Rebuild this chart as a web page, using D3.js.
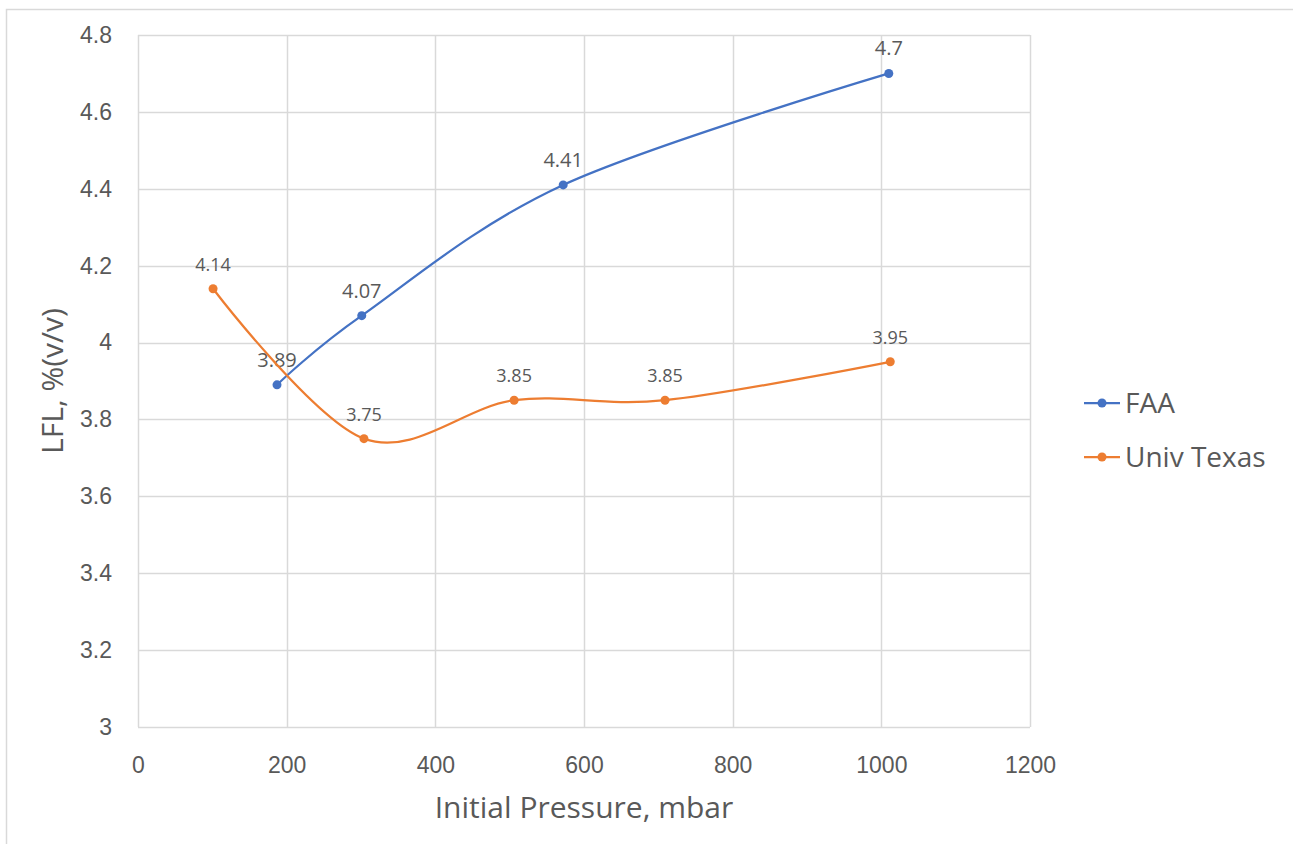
<!DOCTYPE html>
<html>
<head>
<meta charset="utf-8">
<script src="https://cdn.jsdelivr.net/npm/d3@7"></script>
<style>
  html, body { margin: 0; padding: 0; background: #fff; }
  svg { display: block; font-family: "Open Sans", "Noto Sans", sans-serif; }
</style>
</head>
<body>
<svg id="chart" width="1293" height="844"></svg>
<script>
// Lower flammability limit vs. initial pressure
const faaPressure = [187, 301, 572, 1010];
const faaLFL = [3.89, 4.07, 4.41, 4.7];
const utPressure = [101, 304, 506, 709, 1012];
const utLFL = [4.14, 3.75, 3.85, 3.85, 3.95];
const xTicks = [0, 200, 400, 600, 800, 1000, 1200];
const yTicks = [3, 3.2, 3.4, 3.6, 3.8, 4, 4.2, 4.4, 4.6, 4.8];

const series = [
  { name: "FAA", color: "#4472C4", x: faaPressure, y: faaLFL, labelSize: 20 },
  { name: "Univ Texas", color: "#ED7D31", x: utPressure, y: utLFL, labelSize: 18 }
];

const svg = d3.select("#chart");
const margin = { left: 138, right: 1030, top: 35, bottom: 727 };
const x = d3.scaleLinear().domain([0, 1200]).range([margin.left, margin.right]);
const y = d3.scaleLinear().domain([3, 4.8]).range([margin.bottom, margin.top]);
const textColor = "#595959";
const gridColor = "#d9d9d9";

// frame edges (top and left)
svg.append("path")
  .attr("d", "M6.5,844 V9.5 H1293")
  .attr("fill", "none").attr("stroke", "#d9d9d9").attr("stroke-width", 1.5);

// gridlines
svg.append("g").selectAll("line").data(yTicks).join("line")
  .attr("x1", margin.left).attr("x2", margin.right)
  .attr("y1", d => Math.round(y(d)) + 0.5).attr("y2", d => Math.round(y(d)) + 0.5)
  .attr("stroke", gridColor).attr("stroke-width", 1.5);
svg.append("g").selectAll("line").data(xTicks).join("line")
  .attr("y1", margin.top).attr("y2", margin.bottom)
  .attr("x1", d => Math.round(x(d)) + 0.5).attr("x2", d => Math.round(x(d)) + 0.5)
  .attr("stroke", gridColor).attr("stroke-width", 1.5);

// axes (labels only, domain hidden)
const yAxis = svg.append("g").attr("transform", `translate(${margin.left},0)`)
  .call(d3.axisLeft(y).tickValues(yTicks).tickSize(0).tickPadding(26).tickFormat(d3.format("~g")));
const xAxis = svg.append("g").attr("transform", `translate(0,${margin.bottom})`)
  .call(d3.axisBottom(x).tickValues(xTicks).tickSize(0).tickFormat(d3.format("d")));
[yAxis, xAxis].forEach(g => {
  g.select(".domain").remove();
  g.selectAll("text").attr("fill", textColor).style("font-size", "23px");
});
xAxis.selectAll("text").attr("y", 46).attr("dy", null);

// axis titles
svg.append("text")
  .attr("x", (margin.left + margin.right) / 2).attr("y", 818)
  .attr("text-anchor", "middle").attr("fill", textColor)
  .style("font-size", "30px").text("Initial Pressure, mbar");
svg.append("text")
  .attr("transform", `translate(63,${(margin.top + margin.bottom) / 2}) rotate(-90)`)
  .attr("text-anchor", "middle").attr("fill", textColor)
  .style("font-size", "30px").text("LFL, %(v/v)");

// lines, markers and value labels
const line = d3.line().curve(d3.curveCatmullRom.alpha(0))
  .x(d => x(d[0])).y(d => y(d[1]));

series.forEach(s => {
  const pts = s.x.map((v, i) => [v, s.y[i]]);
  svg.append("path").datum(pts).attr("d", line)
    .attr("fill", "none").attr("stroke", s.color).attr("stroke-width", 2.25)
    .attr("stroke-linecap", "round");
  svg.append("g").selectAll("circle").data(pts).join("circle")
    .attr("cx", d => x(d[0])).attr("cy", d => y(d[1])).attr("r", 4.5)
    .attr("fill", s.color);
  svg.append("g").selectAll("text").data(pts).join("text")
    .attr("x", d => x(d[0])).attr("y", d => y(d[1]) - 18)
    .attr("text-anchor", "middle").attr("fill", textColor)
    .style("font-size", s.labelSize + "px")
    .text(d => d3.format("~g")(d[1]));
});

// legend
const legend = svg.append("g");
series.forEach((s, i) => {
  const ly = 403 + i * 54;
  legend.append("line").attr("x1", 1084).attr("x2", 1120).attr("y1", ly).attr("y2", ly)
    .attr("stroke", s.color).attr("stroke-width", 2.25);
  legend.append("circle").attr("cx", 1102).attr("cy", ly).attr("r", 4.5).attr("fill", s.color);
  legend.append("text").attr("x", 1125).attr("y", ly).attr("dy", "0.35em")
    .attr("fill", textColor).style("font-size", "28px").text(s.name);
});
</script>
</body>
</html>
